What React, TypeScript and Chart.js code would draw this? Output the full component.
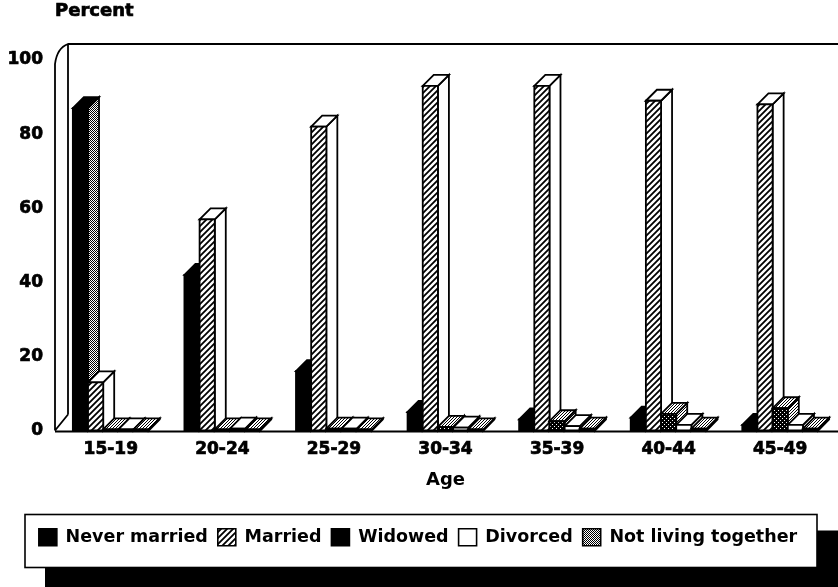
import React, { useEffect, useRef } from "react";
import { Chart, registerables } from "chart.js";

Chart.register(...registerables);

// ---- data ----
const ageGroups = ["15-19", "20-24", "25-29", "30-34", "35-39", "40-44", "45-49"];
const neverMarried = [87, 42, 16, 5, 3, 3.5, 1.5];
const married = [13, 57, 82, 93, 93, 89, 88];
const widowed = [0.3, 0.3, 0.5, 1, 2.5, 4.5, 6];
const divorced = [0.3, 0.5, 0.5, 0.8, 1.2, 1.5, 1.5];
const notLivingTogether = [0.3, 0.3, 0.3, 0.3, 0.5, 0.5, 0.5];
const seriesNames = ["Never married", "Married", "Widowed", "Divorced", "Not living together"];
const yTickValues = [0, 20, 40, 60, 80, 100];
const yAxisTitle = "Percent";
const xAxisTitle = "Age";

const FONT = "'DejaVu Sans', sans-serif";
const DX = 11;
const DY = -11;
const FDX = 13;
const FDY = -16;

function makePattern(size: number, draw: (c: CanvasRenderingContext2D) => void) {
  const cv = document.createElement("canvas");
  cv.width = size;
  cv.height = size;
  const c = cv.getContext("2d") as CanvasRenderingContext2D;
  draw(c);
  return c.createPattern(cv, "repeat") as CanvasPattern;
}

export default function App() {
  const ref = useRef<HTMLCanvasElement | null>(null);

  useEffect(() => {
    const canvas = ref.current;
    if (!canvas) return;

    const hatch = makePattern(6, (c) => {
      c.fillStyle = "#fff";
      c.fillRect(0, 0, 6, 6);
      c.strokeStyle = "#000";
      c.lineWidth = 1.8;
      c.beginPath();
      c.moveTo(-1, 7);
      c.lineTo(7, -1);
      c.moveTo(-4, 4);
      c.lineTo(4, -4);
      c.moveTo(2, 10);
      c.lineTo(10, 2);
      c.stroke();
    });
    const darkStipple = makePattern(4, (c) => {
      c.fillStyle = "#000";
      c.fillRect(0, 0, 4, 4);
      c.fillStyle = "#fff";
      c.fillRect(0, 0, 1, 1);
      c.fillRect(2, 2, 1, 1);
    });
    const checker = makePattern(2, (c) => {
      c.fillStyle = "#fff";
      c.fillRect(0, 0, 2, 2);
      c.fillStyle = "#000";
      c.fillRect(0, 0, 1, 1);
      c.fillRect(1, 1, 1, 1);
    });
    const lightStipple = makePattern(3, (c) => {
      c.fillStyle = "#fff";
      c.fillRect(0, 0, 3, 3);
      c.fillStyle = "#000";
      c.fillRect(0, 0, 1, 1);
      c.fillRect(1, 2, 1, 1);
      c.fillRect(2, 1, 1, 1);
    });

    const fronts: any[] = ["#000", hatch, darkStipple, "#fff", checker];
    const legendFills: any[] = ["#000", hatch, "#000", "#fff", checker];
    const faces = [
      { front: "#000", top: "#000", side: checker },
      { front: hatch, top: "#fff", side: "#fff" },
      { front: darkStipple, top: lightStipple, side: lightStipple },
      { front: "#fff", top: "#fff", side: "#fff" },
      { front: checker, top: lightStipple, side: lightStipple },
    ];
    const values = [neverMarried, married, widowed, divorced, notLivingTogether];

    const poly = (ctx: CanvasRenderingContext2D, pts: number[][], fill: any) => {
      ctx.beginPath();
      ctx.moveTo(pts[0][0], pts[0][1]);
      for (let i = 1; i < pts.length; i++) ctx.lineTo(pts[i][0], pts[i][1]);
      ctx.closePath();
      ctx.fillStyle = fill;
      ctx.fill();
      ctx.stroke();
    };

    const depthPlugin = {
      id: "depth3d",
      beforeDraw(chart: any) {
        const ctx: CanvasRenderingContext2D = chart.ctx;
        const ca = chart.chartArea;
        const W = chart.width;
        const yS = chart.scales.y;
        const B = yS.getPixelForValue(0);
        const T = yS.getPixelForValue(100);
        const L = ca.left;
        ctx.save();
        ctx.fillStyle = "#fff";
        ctx.fillRect(0, 0, W, chart.height);
        ctx.strokeStyle = "#000";
        ctx.lineWidth = 1.8;
        ctx.beginPath();
        ctx.moveTo(L, B);
        ctx.lineTo(L, T + 4);
        ctx.quadraticCurveTo(L + 2, T + FDY + 4, L + FDX, T + FDY);
        ctx.lineTo(W, T + FDY);
        ctx.moveTo(L + FDX, T + FDY);
        ctx.lineTo(L + FDX, B + FDY);
        ctx.moveTo(L, B + 1);
        ctx.lineTo(W, B + 1);
        ctx.moveTo(L, B);
        ctx.lineTo(L + FDX, B + FDY);
        ctx.stroke();

        // y axis title
        ctx.fillStyle = "#000";
        ctx.strokeStyle = "#000";
        ctx.lineWidth = 0.7;
        ctx.font = "bold 18px " + FONT;
        ctx.textAlign = "left";
        ctx.textBaseline = "middle";
        ctx.fillText(yAxisTitle, L, 11);
        ctx.strokeText(yAxisTitle, L, 11);

        // legend frame with drop shadow
        const lg = chart.legend;
        const top = lg.top - 4;
        ctx.fillStyle = "#000";
        ctx.fillRect(45, top + 16, W - 45, chart.height - top - 16);
        ctx.fillStyle = "#fff";
        ctx.fillRect(25, top, 792, 53);
        ctx.lineWidth = 1.6;
        ctx.strokeRect(25, top, 792, 53);
        ctx.restore();
      },
      beforeDatasetsDraw(chart: any) {
        const ctx: CanvasRenderingContext2D = chart.ctx;
        const metas = chart.data.datasets.map((_: any, i: number) => chart.getDatasetMeta(i));
        ctx.save();
        ctx.strokeStyle = "#000";
        ctx.lineWidth = 1.8;
        ctx.lineJoin = "miter";
        for (let j = 0; j < ageGroups.length; j++) {
          metas.forEach((meta: any, di: number) => {
            const el = meta.data[j];
            const { x, y, base, width } = el.getProps(["x", "y", "base", "width"], true);
            const l = x - width / 2;
            const r = x + width / 2;
            const st = faces[di];
            poly(ctx, [[r, base], [r + DX, base + DY], [r + DX, y + DY], [r, y]], st.side);
            poly(ctx, [[l, y], [l + DX, y + DY], [r + DX, y + DY], [r, y]], st.top);
            poly(ctx, [[l, base], [l, y], [r, y], [r, base]], st.front);
          });
        }
        ctx.restore();
        return false;
      },
    };

    const chart = new Chart(canvas, {
      type: "bar",
      data: {
        labels: ageGroups,
        datasets: seriesNames.map((name, i) => ({
          label: name,
          data: values[i],
          backgroundColor: fronts[i],
          borderColor: "#000",
          borderWidth: 1.6,
          categoryPercentage: 0.68,
          barPercentage: 1.0,
        })),
      },
      options: {
        responsive: false,
        animation: false,
        devicePixelRatio: 1,
        layout: { padding: { top: 60, left: 0, right: 2, bottom: 31 } },
        plugins: {
          tooltip: { enabled: false },
          title: { display: false },
          legend: {
            display: true,
            position: "bottom",
            labels: {
              boxWidth: 18,
              boxHeight: 17,
              padding: 10,
              color: "#000",
              font: { family: FONT, size: 17.5, weight: "bold" },
              generateLabels: () =>
                seriesNames.map((name, i) => ({
                  text: name,
                  fillStyle: legendFills[i],
                  strokeStyle: "#000",
                  lineWidth: 1.6,
                  hidden: false,
                  datasetIndex: i,
                  fontColor: "#000",
                })),
            },
          },
        },
        scales: {
          x: {
            grid: { display: false, drawTicks: false },
            border: { display: false },
            ticks: {
              color: "#000",
              padding: 9,
              maxRotation: 0,
              autoSkip: false,
              textStrokeColor: "#000",
              textStrokeWidth: 0.7,
              font: { family: FONT, size: 17, weight: "bold" },
            },
            title: {
              display: true,
              text: xAxisTitle,
              color: "#000",
              font: { family: FONT, size: 18, weight: "bold" },
              padding: { top: 0, bottom: 27 },
            },
            afterFit: (s: any) => {
              s.height = 88;
            },
          },
          y: {
            min: 0,
            max: 100,
            grid: { display: false, drawTicks: false },
            border: { display: false },
            afterBuildTicks: (s: any) => {
              s.ticks = yTickValues.map((v) => ({ value: v }));
            },
            ticks: {
              color: "#000",
              padding: 12,
              textStrokeColor: "#000",
              textStrokeWidth: 0.7,
              font: { family: FONT, size: 17, weight: "bold" },
            },
            afterFit: (s: any) => {
              s.width = 55;
            },
          },
        },
      },
      plugins: [depthPlugin],
    } as any);

    return () => chart.destroy();
  }, []);

  return (
    <div style={{ position: "absolute", left: 0, top: 0, width: 838, height: 587, background: "#fff" }}>
      <canvas ref={ref} width={838} height={587} style={{ width: 838, height: 587, display: "block" }} />
    </div>
  );
}
